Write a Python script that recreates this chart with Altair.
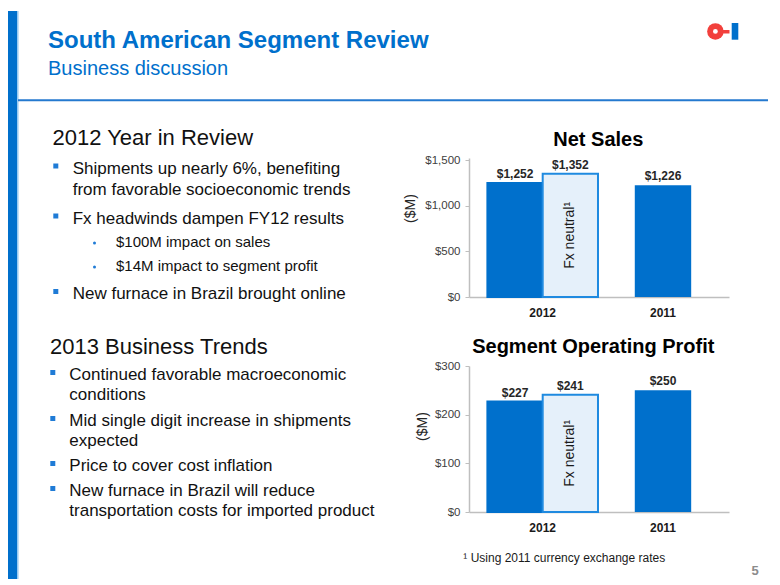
import math
import altair as alt
import pandas as pd

# ------------------------------------------------------------------ data
years = ["2012", "2011"]
series_2012 = ["Reported", "Fx neutral"]
net_sales_2012 = [1252, 1352]
net_sales_2011 = [1226]
profit_2012 = [227, 241]
profit_2011 = [250]
sales_ticks = [0, 500, 1000, 1500]
profit_ticks = [0, 100, 200, 300]

title_text = "South American Segment Review"
subtitle_text = "Business discussion"
sec1_heading = "2012 Year in Review"
sec1_lines = ["Shipments up nearly 6%, benefiting", "from favorable socioeconomic trends",
              "Fx headwinds dampen FY12 results", "New furnace in Brazil brought online"]
sec1_sub = ["$100M impact on sales", "$14M impact to segment profit"]
sec2_heading = "2013 Business Trends"
sec2_lines = ["Continued favorable macroeconomic", "conditions",
              "Mid single digit increase in shipments", "expected",
              "Price to cover cost inflation",
              "New furnace in Brazil will reduce", "transportation costs for imported product"]
chart_titles = ["Net Sales", "Segment Operating Profit"]
footnote = "\u00b9 Using 2011 currency exchange rates"
fx_label = "Fx neutral\u00b9"
page_no = "5"

# ------------------------------------------------------------------ style / layout
BLUE = "#0070CC"
BULLET = "#1F7BD6"
RED = "#F2403C"
FONT = "Liberation Sans"
OFF = 8  # page margin of the html body


def P(v):
    return v - OFF


texts = []


def add(text, x, y, size, color="#111111", weight="normal", align="left"):
    texts.append(dict(text=text, x=P(x), y=P(y), size=size, color=color,
                      weight=weight, align=align))


add(title_text, 48, 45, 24, BLUE, "bold")
add(subtitle_text, 48, 72, 20, BLUE)
add(sec1_heading, 52.5, 142, 22)
for t, yb in zip(sec1_lines, [170.7, 191.7, 220.7, 296]):
    add(t, 72.7, yb, 17)
for t, yb in zip(sec1_sub, [243.5, 267.5]):
    add(t, 116, yb, 15)
add(sec2_heading, 50, 350.7, 22)
for t, yb in zip(sec2_lines, [377.3, 397.3, 423.3, 443.3, 468.3, 493.3, 513.3]):
    add(t, 69.3, yb, 17)
add(chart_titles[0], 598.3, 142.7, 20, "#000000", "bold", "center")
add(chart_titles[1], 593.3, 350, 20, "#000000", "bold", "center")
add(footnote, 463.3, 559, 12, "#1a1a1a")
add(page_no, 755, 572, 13, "#8C8C8C", "bold", "center")
tdf = pd.DataFrame(texts)

squares = pd.DataFrame({"x": [P(v) for v in [55.8, 55.8, 55.8, 52.8, 52.8, 52.8, 52.8]],
                        "y": [P(v) for v in [163, 213, 288.5, 369.5, 415.5, 460.5, 485.5]]})
dots = pd.DataFrame({"x": [P(94.5), P(94.5)], "y": [P(240), P(264)]})

CANVAS_W, CANVAS_H = 461, 568

px = lambda f: alt.X(f"{f}:Q", scale=None, axis=None)
py = lambda f: alt.Y(f"{f}:Q", scale=None, axis=None)

rects = pd.DataFrame({
    "x": [0, P(722.5), P(731.7)],
    "x2": [9.3, P(729.5), P(738.3)],
    "y": [0, P(27), P(20)],
    "y2": [CANVAS_H, P(30.5), P(36.7)],
    "c": [BLUE, RED, BLUE],
})
rect_layer = alt.Chart(rects).mark_rect().encode(
    x=px("x"), x2="x2", y=py("y"), y2="y2", color=alt.Color("c:N", scale=None))

strip_edge = alt.Chart(pd.DataFrame({"x": [9.9], "y": [0], "y2": [CANVAS_H]})).mark_rule(
    color="#8EC5F0", strokeWidth=1.2).encode(x=px("x"), y=py("y"), y2="y2")

hline = alt.Chart(pd.DataFrame({"x": [10], "x2": [760], "y": [P(97.3)]})).mark_rule(
    color="#2479CF", strokeWidth=2).encode(x=px("x"), x2="x2", y=py("y"))

# logo ring: filled red disc with a small white hole (symbol diameter = sqrt(size))
ring_pos = pd.DataFrame({"x": [P(715.4)], "y": [P(28.4)]})
ring = alt.Chart(ring_pos).mark_circle(size=16.5 ** 2, color=RED, opacity=1).encode(
    x=px("x"), y=py("y"))
hole = alt.Chart(ring_pos).mark_circle(size=4.8 ** 2, color="white", opacity=1).encode(
    x=px("x"), y=py("y"))

sq_layer = alt.Chart(squares).mark_square(size=25, color=BULLET, opacity=1).encode(
    x=px("x"), y=py("y"))
dot_layer = alt.Chart(dots).mark_circle(size=9, color=BULLET, opacity=1).encode(
    x=px("x"), y=py("y"))

text_layers = []
for (w, a), _ in tdf.groupby(["weight", "align"]):
    text_layers.append(
        alt.Chart(tdf).transform_filter(
            (alt.datum.weight == w) & (alt.datum.align == a)
        ).mark_text(font=FONT, fontWeight=w, align=a, baseline="alphabetic").encode(
            x=px("x"), y=py("y"), text="text:N",
            size=alt.Size("size:Q", scale=None, legend=None),
            color=alt.Color("color:N", scale=None))
    )

canvas = alt.layer(rect_layer, strip_edge, hline, ring, hole, sq_layer, dot_layer,
                   *text_layers).properties(width=CANVAS_W, height=CANVAS_H)


# ------------------------------------------------------------------ bar panels
def seg_chart(vals12, vals11, ymax, ticks, height, title_x, title_y):
    df12 = pd.DataFrame({"year": "2012", "series": series_2012, "value": vals12})
    df11 = pd.DataFrame({"year": ["2011"], "value": vals11})
    xenc = alt.X("year:N",
                 scale=alt.Scale(domain=years, paddingInner=0.0806,
                                 paddingOuter=0.121, align=0.632),
                 axis=alt.Axis(title=None, labelAngle=0, ticks=False, labelFontSize=12,
                               labelFontWeight="bold", labelColor="#1a1a1a", labelFont=FONT,
                               labelPadding=10, domainColor="#BFBFBF", domainWidth=1.5))

    def yenc(field):
        return alt.Y(f"{field}:Q", title="($M)",
                     scale=alt.Scale(domain=[0, ymax], nice=False, zero=True),
                     axis=alt.Axis(values=ticks, format="$,.0f", grid=False,
                                   labelFontSize=11.5, labelColor="#404040", labelFont=FONT,
                                   labelFlush=False, labelPadding=5,
                                   tickSize=4, tickColor="#BFBFBF",
                                   domainColor="#BFBFBF", domainWidth=1.5,
                                   titleFontSize=14, titleFontWeight="normal",
                                   titleColor="#262626", titleFont=FONT,
                                   titleAngle=270, titleAlign="center",
                                   titleBaseline="middle", titleX=title_x, titleY=title_y))

    xoff = alt.XOffset("series:N", scale=alt.Scale(domain=series_2012,
                                                    paddingInner=0, paddingOuter=0))
    bars12 = alt.Chart(df12).mark_bar(strokeWidth=2).encode(
        x=xenc, xOffset=xoff, y=yenc("value"),
        color=alt.Color("series:N", scale=alt.Scale(domain=series_2012,
                                                    range=[BLUE, "#E5F0FA"]), legend=None),
        stroke=alt.Stroke("series:N", scale=alt.Scale(domain=series_2012,
                                                      range=[BLUE, "#1F8AE0"]), legend=None))
    bars11 = alt.Chart(df11).mark_bar(width={"band": 0.51}, color=BLUE).encode(
        x=xenc, y=yenc("value"))
    lab_kw = dict(font=FONT, fontWeight="bold", fontSize=12, color="#262626",
                  baseline="alphabetic", dy=-5)
    text12 = alt.Chart(df12).mark_text(**lab_kw).encode(
        x=xenc, xOffset=xoff, y=yenc("value"),
        text=alt.Text("value:Q", format="$,.0f"))
    text11 = alt.Chart(df11).mark_text(**lab_kw).encode(
        x=xenc, y=yenc("value"), text=alt.Text("value:Q", format="$,.0f"))
    fx = alt.Chart(df12).transform_filter(alt.datum.series == "Fx neutral").transform_calculate(
        mid="datum.value / 2").mark_text(
        font=FONT, fontSize=14, color="#1a1a1a", angle=270, align="center",
        baseline="middle").encode(x=xenc, xOffset=xoff, y=yenc("mid"),
                                  text=alt.value(fx_label))
    return alt.layer(bars12, bars11, text12, text11, fx).properties(width=260, height=height)


sales = seg_chart(net_sales_2012, net_sales_2011, 1525, sales_ticks, 139, -59, 50)
profit = seg_chart(profit_2012, profit_2011, 300, profit_ticks, 146, -47, 60)

spacer = alt.Chart(pd.DataFrame({"v": [0]})).mark_point(opacity=0).encode(
    x=alt.value(0), y=alt.value(0)).properties(width=260, height=78)

right = alt.vconcat(spacer, sales, profit, spacing=69, bounds="flush")

chart = alt.hconcat(canvas, right, spacing=0, bounds="flush").properties(
    padding=0
).configure(font=FONT).configure_view(stroke=None)

chart.save("out.html", embed_options={"renderer": "svg", "actions": False})
